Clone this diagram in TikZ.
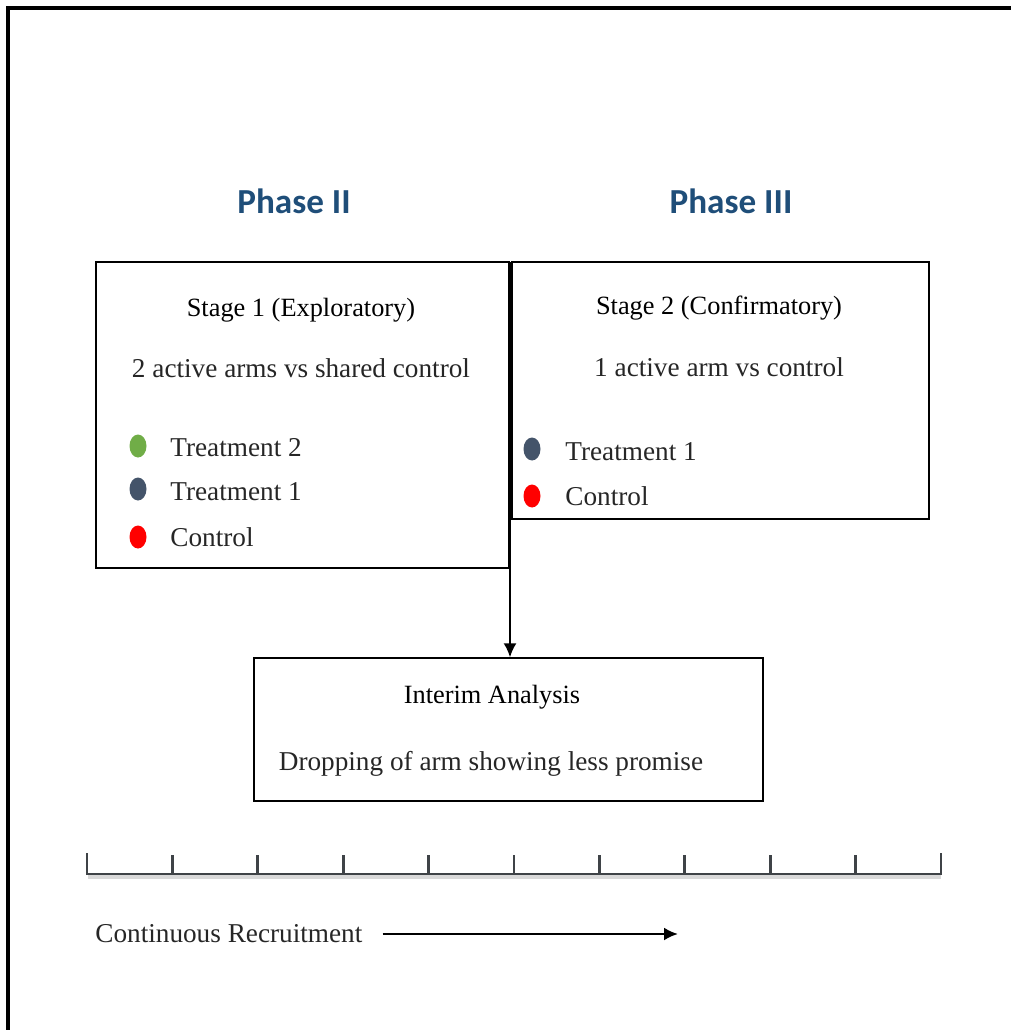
\documentclass[tikz,border=0pt]{standalone}
\usepackage{fontspec}
\setmainfont{Liberation Serif}
\newfontfamily\phasefont{Carlito}
\usepackage{tikz}
\usetikzlibrary{shapes.geometric,arrows.meta}
\definecolor{phaseblue}{HTML}{1F4E79}
\definecolor{armgreen}{HTML}{70AD47}
\definecolor{armslate}{HTML}{44546A}
\definecolor{armred}{HTML}{FF0000}
\definecolor{rulegray}{HTML}{3F4347}

\begin{document}
\begin{tikzpicture}
[x=0.02cm,y=-0.02cm,%%%%%%%%%%%%%%%%%%%%%%%%%%%%%%
stagebox/.style={rectangle,draw=black,thick,inner sep=0pt},
phase/.style={font=\phasefont\bfseries\fontsize{20}{24}\selectfont,text=phaseblue},
heading/.style={font=\fontsize{15}{18}\selectfont},
body/.style={font=\fontsize{15.5}{18}\selectfont,text=black!85},
dot/.style={ellipse,minimum width=0.34cm,minimum height=0.46cm,inner sep=0pt},
flow/.style={line width=1.1pt,-{Latex[length=0.28cm,width=0.26cm]}},
]%%%%%%%%%%%%%%%%%%%%%%%%%%%%%%
\useasboundingbox (0,0) rectangle (1011,1030);

% frame
\draw[line width=0.08cm] (8,1030) -- (8,8) -- (1011,8);

\node[phase] (p2) at (294,201){Phase II};
\node[phase] (p3) at (731,201){Phase III};

\node[stagebox,minimum width=8.26cm,minimum height=6.12cm] (s1) at (302.5,415){};
\node[stagebox,minimum width=8.34cm,minimum height=5.14cm] (s2) at (720.5,390.5){};
\node[stagebox,minimum width=10.18cm,minimum height=2.86cm] (ia) at (508.5,729.5){};

\node[heading] (s1head) at (301,310){Stage 1 (Exploratory)};
\node[body] (s1sub) at (301,368){2 active arms vs shared control};
\node[dot,fill=armgreen] (d12) at (138,446){};
\node[dot,fill=armslate] (d11) at (138,489){};
\node[dot,fill=armred] (d10) at (138,537){};
\node[body,anchor=west,inner sep=0pt] (t12) at (170,448){Treatment 2};
\node[body,anchor=west,inner sep=0pt] (t11) at (170,492){Treatment 1};
\node[body,anchor=west,inner sep=0pt] (t10) at (170,537){Control};

\node[heading] (s2head) at (719,308){Stage 2 (Confirmatory)};
\node[body] (s2sub) at (719,367){1 active arm vs control};
\node[dot,fill=armslate] (d21) at (532,449){};
\node[dot,fill=armred] (d20) at (532,496){};
\node[body,anchor=west,inner sep=0pt] (t21) at (565,452){Treatment 1};
\node[body,anchor=west,inner sep=0pt] (t20) at (565,496){Control};

\node[heading] (iahead) at (492,697){Interim Analysis};
\node[body] (iasub) at (491,764){Dropping of arm showing less promise};

\coordinate (split) at (510,262);
\draw[flow] (split) -- (split |- ia.north);

% time line
\draw[line width=2.5pt,black!15] (88,877) -- (941,877);
\draw[line width=1.6pt,rulegray] (87,853) -- (87,874) -- (941,874) -- (941,853);
\foreach \x in {1,2,...,9}
\draw[line width=1.6pt,rulegray] (87+85.4*\x,874) -- (87+85.4*\x,855);

\node[body,anchor=west,inner sep=0pt] (rec) at (95,934){Continuous Recruitment};
\coordinate (recend) at (678,934);
\draw[flow,line width=1.4pt] (rec.east) ++(20,0) coordinate (recstart) (recstart) -- (recend);
\end{tikzpicture}
\end{document}
